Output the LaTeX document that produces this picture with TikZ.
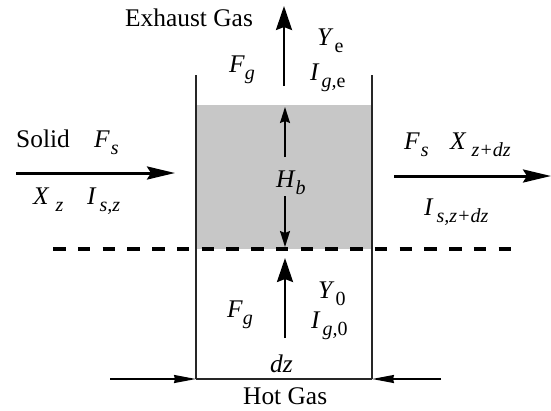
\documentclass[tikz,border=0pt]{standalone}
\usepackage{fontspec}
\setmainfont{Liberation Serif}
\usetikzlibrary{arrows.meta}
\newcommand{\subtxt}[1]{\raisebox{-0.3em}{\fontsize{20}{22}\selectfont #1}}
\tikzset{
  wall/.style={line width=1.6pt,black!85},
  flowthick/.style={line width=3pt,-{Stealth[length=28pt,width=13pt,inset=4pt]}},
  flowmid/.style={line width=2.6pt,-{Stealth[length=24pt,width=16pt,inset=3pt]}},
  dimline/.style={line width=1.6pt,-{Stealth[length=16pt,width=10pt,inset=2pt]}},
  baseflow/.style={line width=1.6pt,-{Stealth[length=22pt,width=8pt,inset=1pt]}},
  lab/.style={inner sep=0pt,anchor=base west,font=\fontsize{25.4}{28}\selectfont},
}
\begin{document}
\begin{tikzpicture}[x=1pt,y=-1pt]
\useasboundingbox (0,0) rectangle (551,410);
\fill[black!22] (196,105) rectangle (372,249);
\coordinate (wlt) at (196,75);
\coordinate (wlb) at (196,379);
\coordinate (wrt) at (372,75);
\coordinate (wrb) at (372,379);
\draw[wall] (wlt) -- (wlb);
\draw[wall] (wrt) -- (wrb);
\draw[wall] (wlb) -- (wrb);
\coordinate (dl) at (53,249);
\coordinate (dr) at (511,249);
\draw[line width=3.6pt,dash pattern=on 12.5pt off 12.25pt] (dl) -- (dr);
\coordinate (sa) at (16,173);
\coordinate (sb) at (175,173);
\draw[flowthick] (sa) -- (sb);
\coordinate (oa) at (394,176);
\coordinate (ob) at (551,176);
\draw[flowthick] (oa) -- (ob);
\coordinate (ea) at (284,86);
\coordinate (eb) at (284,6);
\draw[flowmid] (ea) -- (eb);
\coordinate (ga) at (285,338);
\coordinate (gb) at (285,258);
\draw[flowmid] (ga) -- (gb);
\coordinate (ha) at (285,157);
\coordinate (hb) at (285,107);
\draw[dimline] (ha) -- (hb);
\coordinate (hc) at (285,196);
\coordinate (hd) at (285,247);
\draw[dimline] (hc) -- (hd);
\coordinate (bl) at (110,379);
\draw[baseflow] (bl) -- (wlb);
\coordinate (br) at (441,379);
\draw[baseflow] (br) -- (wrb);
\node[lab] (exh) at (125,26) {Exhaust Gas};
\node[lab] (fg1) at (229,72) {\textit{F}\subtxt{\textit{g}}};
\node[lab] (ye) at (317,45) {\textit{Y}\kern1pt\subtxt{e}};
\node[lab] (ige) at (310,80) {\textit{I}\kern2pt\subtxt{\textit{g,}e}};
\node[lab] (sol) at (16,147) {Solid};
\node[lab] (fs1) at (94,147) {\textit{F}\kern1pt\subtxt{\textit{s}}};
\node[lab] (xz) at (33,204) {\textit{X}\kern6pt\subtxt{\textit{z}}};
\node[lab] (isz) at (87,204) {\textit{I}\kern3pt\subtxt{\textit{s,z}}};
\node[lab] (hbl) at (276,187) {\textit{H}\subtxt{\textit{b}}};
\node[lab] (fs2) at (404,149) {\textit{F}\kern1pt\subtxt{\textit{s}}};
\node[lab] (xzd) at (450,149) {\textit{X}\kern5pt\subtxt{\textit{z+dz}}};
\node[lab] (isd) at (424,215) {\textit{I}\kern3pt\subtxt{\textit{s,z+dz}}};
\node[lab] (fg2) at (227,317) {\textit{F}\subtxt{\textit{g}}};
\node[lab] (y0) at (318,298) {\textit{Y}\kern1pt\subtxt{0}};
\node[lab] (ig0) at (311,328) {\textit{I}\kern2pt\subtxt{\textit{g,}0}};
\node[lab] (dz) at (270,372) {\textit{dz}};
\node[lab] (hot) at (243,404) {Hot Gas};
\end{tikzpicture}
\end{document}
